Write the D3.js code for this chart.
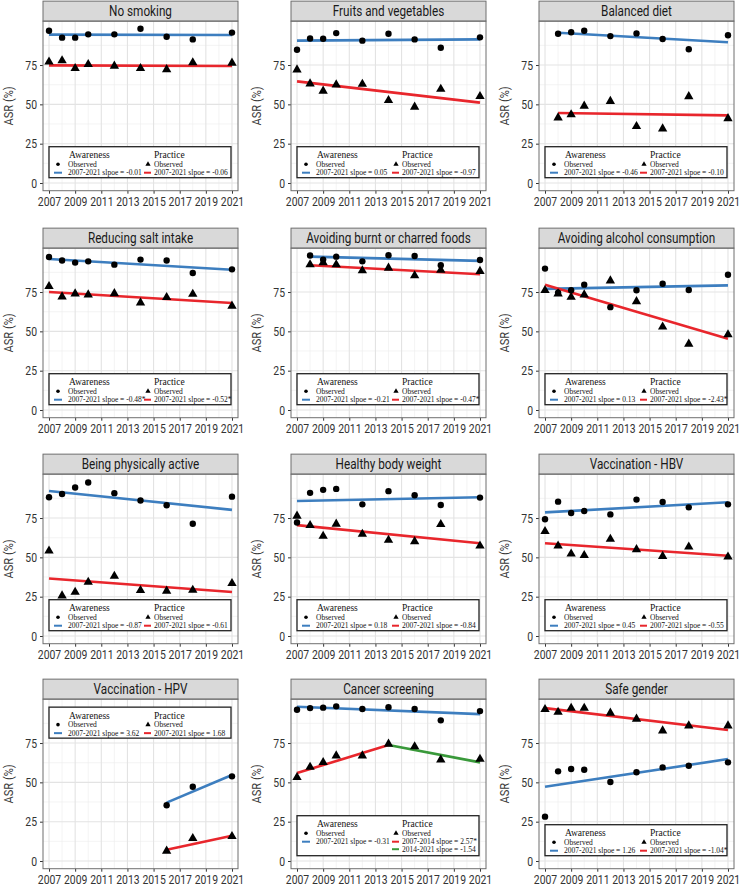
<!DOCTYPE html>
<html><head><meta charset="utf-8">
<script src="https://cdn.jsdelivr.net/npm/d3@7"></script>
<style>
body{margin:0;background:#fff;}
svg{display:block;}
</style></head>
<body><svg id="chart" width="746" height="890"></svg>
<script>
const panelTitles = ["No smoking","Fruits and vegetables","Balanced diet","Reducing salt intake","Avoiding burnt or charred foods","Avoiding alcohol consumption","Being physically active","Healthy body weight","Vaccination - HBV","Vaccination - HPV","Cancer screening","Safe gender"];
const yearsAll = [2007,2008,2009,2010,2012,2014,2016,2018,2021];
const years2008 = [2008,2009,2010,2012,2014,2016,2018,2021];
const yearsHPV = [2016,2018,2021];
const panelYears = [yearsAll,yearsAll,years2008,yearsAll,years2008,yearsAll,yearsAll,yearsAll,yearsAll,yearsHPV,yearsAll,yearsAll];
const awareness = [
 [96.8,92.4,92.4,94.5,94.5,98.1,93.0,91.3,95.6],
 [84.7,91.9,91.7,95.3,90.5,94.9,91.3,86.0,92.6],
 [94.9,95.8,96.8,93.4,95.1,91.5,85.0,93.9],
 [97.3,95.0,93.7,94.5,92.4,95.6,95.0,87.1,89.4],
 [98.2,95.6,97.5,94.5,98.4,97.9,92.0,95.4],
 [89.9,74.6,76.1,79.7,65.4,76.1,80.3,76.3,86.0],
 [88.2,90.3,94.4,97.6,90.8,86.1,83.1,71.4,88.6],
 [72.2,91.0,92.9,93.5,83.7,92.1,89.5,83.3,88.0],
 [74.2,85.4,78.2,79.5,77.3,86.7,85.2,81.8,83.7],
 [35.4,47.2,53.8],
 [96.2,97.2,97.5,98.3,96.6,97.7,96.6,89.4,95.3],
 [28.2,57.0,58.5,58.0,50.2,56.4,59.5,60.6,62.7]
];
const practice = [
 [77.0,77.8,72.9,75.4,74.4,72.9,72.2,76.5,76.3],
 [72.0,63.1,58.5,62.5,62.9,52.5,48.3,59.7,55.1],
 [41.5,43.5,49.0,52.0,36.0,34.5,55.0,41.0],
 [78.6,72.0,73.9,73.3,74.1,68.2,71.6,73.7,66.1],
 [92.4,93.7,92.4,88.6,90.3,85.4,89.0,88.2],
 [76.1,73.9,71.8,73.3,82.2,69.0,52.9,42.0,47.9],
 [54.1,25.6,27.9,34.3,38.1,29.0,28.6,29.2,33.5],
 [76.3,70.3,63.5,71.2,64.8,61.0,60.1,71.0,57.3],
 [66.5,57.3,52.2,51.3,61.6,55.0,50.7,56.7,50.3],
 [6.4,14.4,15.7],
 [53.2,59.7,62.7,66.9,66.9,74.4,72.7,64.4,64.8],
 [96.4,94.7,97.2,97.2,94.1,90.3,82.8,86.0,86.0]
];
// fitted trend segments: [startYear, startValue, endYear, endValue]
const awarenessFit = [
 [2007,94.3,2021,94.1],[2007,90.5,2021,91.3],[2008,95.5,2021,89.5],[2007,96.0,2021,89.2],
 [2008,97.5,2021,94.8],[2007,77.0,2021,79.2],[2007,92.2,2021,80.2],[2007,85.8,2021,88.2],
 [2007,78.6,2021,85.0],[2016,37.1,2021,54.7],[2007,98.1,2021,93.4],[2007,47.2,2021,64.8]
];
const practiceFit = [
 [2007,74.8,2021,74.4],[2007,64.6,2021,51.1],[2008,44.5,2021,43.0],[2007,75.0,2021,68.0],
 [2008,92.0,2021,86.3],[2007,79.7,2021,45.3],[2007,36.6,2021,28.0],[2007,70.5,2021,59.0],
 [2007,59.0,2021,51.0],[2016,7.2,2021,16.1],[2007,55.9,2014,73.7],[2007,97.2,2021,83.3]
];
const practiceFit2 = {10:[2014,73.7,2021,62.7]};
const awarenessSlope = ["-0.01","0.05","-0.46","-0.48*","-0.21","0.13","-0.87","0.18","0.45","3.62","-0.31","1.26"];
const practiceSlope = ["-0.06","-0.97","-0.10","-0.52*","-0.47*","-2.43*","-0.61","-0.84","-0.55","1.68","2.57*","-1.04*"];
const practiceSlope2 = {10:"-1.54"};
const practicePeriod = {10:"2007-2014"};
const practicePeriod2 = {10:"2014-2021"};
const xTickYears = [2007,2009,2011,2013,2015,2017,2019,2021];
const yTicks = [0,25,50,75];

const BLUE="#3d7ebf", RED="#e8262c", GREEN="#39993a";
const svg = d3.select("#chart");
const colLeft=[43,291,539], panelW=195;
const rowZero=[183,410,636,861], unit=1.573;
const yDom=[-4.9,102.9];
const panelH=(yDom[1]-yDom[0])*unit;
const sans="'Roboto','Liberation Sans',sans-serif";
const serif="'Liberation Serif','Times New Roman',serif";
const CX=0.77;

panelTitles.forEach((title,i)=>{
  const r=Math.floor(i/3), c=i%3;
  const left=colLeft[c], top=rowZero[r]-yDom[1]*unit;
  const g=svg.append("g").attr("transform",`translate(${left},${top})`);
  const x=d3.scaleLinear().domain([2006.54,2021.46]).range([0,panelW]);
  const y=d3.scaleLinear().domain(yDom).range([panelH,0]);
  // grid
  const minorY=[12.5,37.5,62.5,87.5], minorX=[2008,2010,2012,2014,2016,2018,2020];
  g.selectAll(".gmy").data(minorY).join("line").attr("x1",0).attr("x2",panelW).attr("y1",d=>y(d)).attr("y2",d=>y(d)).attr("stroke","#ececec").attr("stroke-width",0.6);
  g.selectAll(".gmx").data(minorX).join("line").attr("y1",0).attr("y2",panelH).attr("x1",d=>x(d)).attr("x2",d=>x(d)).attr("stroke","#ececec").attr("stroke-width",0.6);
  g.selectAll(".gy").data(yTicks).join("line").attr("x1",0).attr("x2",panelW).attr("y1",d=>y(d)).attr("y2",d=>y(d)).attr("stroke","#e3e3e3").attr("stroke-width",1.1);
  g.selectAll(".gx").data(xTickYears).join("line").attr("y1",0).attr("y2",panelH).attr("x1",d=>x(d)).attr("x2",d=>x(d)).attr("stroke","#e3e3e3").attr("stroke-width",1.1);
  // strip
  g.append("rect").attr("x",0).attr("y",-20).attr("width",panelW).attr("height",20).attr("fill","#d9d9d9").attr("stroke","#6e6e6e").attr("stroke-width",1);
  g.append("text").attr("transform",`translate(${panelW/2},-5.5) scale(0.84,1)`).attr("text-anchor","middle").attr("font-family",sans).attr("font-size",14).attr("fill","#1a1a1a").text(title);
  // axes
  const xa=g.append("g").attr("transform",`translate(0,${panelH})`).call(d3.axisBottom(x).tickValues(xTickYears).tickFormat(d3.format("d")).tickSize(3).tickPadding(3));
  const ya=g.append("g").call(d3.axisLeft(y).tickValues(yTicks).tickSize(3).tickPadding(3));
  [xa,ya].forEach(a=>{a.select(".domain").remove();a.selectAll("line").attr("stroke","#333");a.selectAll("text").attr("font-family",sans).attr("font-size",13.5).attr("fill","#333");});
  xa.selectAll("text").attr("transform",`scale(${CX},1)`);
  ya.selectAll("text").attr("x",-6/CX).attr("transform",`scale(${CX},1)`);
  g.append("text").attr("transform",`translate(-30,${panelH/2}) rotate(-90) scale(0.82,1)`).attr("text-anchor","middle").attr("font-family",sans).attr("font-size",13.5).attr("fill","#3a3a3a").text("ASR (%)");
  // trend lines
  const seg=(s,col)=>g.append("line").attr("x1",x(s[0])).attr("y1",y(s[1])).attr("x2",x(s[2])).attr("y2",y(s[3])).attr("stroke",col).attr("stroke-width",2.6);
  seg(awarenessFit[i],BLUE); seg(practiceFit[i],RED);
  if(practiceFit2[i]) seg(practiceFit2[i],GREEN);
  // points
  const yrs=panelYears[i];
  g.selectAll(".aw").data(awareness[i]).join("circle").attr("cx",(d,k)=>x(yrs[k])).attr("cy",d=>y(d)).attr("r",3.2).attr("fill","#000");
  g.selectAll(".pr").data(practice[i]).join("path").attr("d",d3.symbol(d3.symbolTriangle,38)).attr("transform",(d,k)=>`translate(${x(yrs[k])},${y(d)})`).attr("fill","#000");
  // border
  g.append("rect").attr("x",0).attr("y",0).attr("width",panelW).attr("height",panelH).attr("fill","none").attr("stroke","#6e6e6e").attr("stroke-width",1);
  // legend
  const extra=!!practiceFit2[i];
  const bh=extra?40:31;
  const by= (i===9)? 8 : panelH-13-bh;
  const lg=g.append("g").attr("transform",`translate(6,${by})`);
  lg.append("rect").attr("width",182).attr("height",bh).attr("fill","#fff").attr("stroke","#222").attr("stroke-width",1.3);
  const t=(xx,yy,s,fs)=>lg.append("text").attr("x",xx).attr("y",yy).attr("font-family",serif).attr("font-size",fs).attr("fill","#111").text(s);
  t(20,11.5,"Awareness",9.5); t(105,11.5,"Practice",9.5);
  lg.append("circle").attr("cx",9).attr("cy",17.5).attr("r",1.8).attr("fill","#000");
  lg.append("path").attr("d",d3.symbol(d3.symbolTriangle,12)).attr("transform","translate(99,17.5)").attr("fill","#000");
  t(19,20,"Observed",7.5); t(105,20,"Observed",7.5);
  lg.append("line").attr("x1",5).attr("x2",13).attr("y1",26).attr("y2",26).attr("stroke",BLUE).attr("stroke-width",2);
  lg.append("line").attr("x1",95).attr("x2",102).attr("y1",26).attr("y2",26).attr("stroke",RED).attr("stroke-width",2);
  t(19,28.5,"2007-2021 slpoe = "+awarenessSlope[i],7.5);
  t(105,28.5,(practicePeriod[i]||"2007-2021")+" slpoe = "+practiceSlope[i],7.5);
  if(extra){
    lg.append("line").attr("x1",95).attr("x2",102).attr("y1",33.5).attr("y2",33.5).attr("stroke",GREEN).attr("stroke-width",2);
    t(105,36,practicePeriod2[i]+" slpoe = "+practiceSlope2[i],7.5);
  }
});
</script></body></html>
